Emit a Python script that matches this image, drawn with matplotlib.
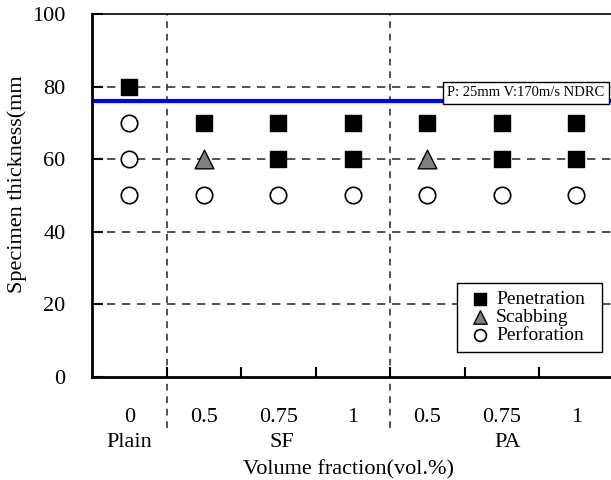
import matplotlib.pyplot as plt
import matplotlib.transforms as mtransforms

plt.rcParams['font.family'] = 'Liberation Serif'

# data
categories = ['0', '0.5', '0.75', '1', '0.5', '0.75', '1']
groups = ['Plain', 'SF', 'PA']
group_pos = [0, 2.05, 5.08]
separators = [0.5, 3.5]

pen_x = [0, 1, 2, 2, 3, 3, 4, 5, 5, 6, 6]
pen_y = [80, 70, 70, 60, 70, 60, 70, 70, 60, 70, 60]
scab_x = [1, 4]
scab_y = [60, 60]
perf_x = [0, 0, 0, 1, 2, 3, 4, 5, 6]
perf_y = [70, 60, 50, 50, 50, 50, 50, 50, 50]

ndrc_thickness = 76.1
ndrc_label = 'P: 25mm V:170m/s NDRC'

fig = plt.figure(figsize=(6.11, 4.8), dpi=100)
ax = fig.add_axes([0.1506, 0.2156, 0.8535, 0.7552])

ax.set_xlim(-0.5, 6.5)
ax.set_ylim(0, 100)

# horizontal dashed grid
for yv in [20, 40, 60, 80]:
    ax.axhline(yv, color='#333333', lw=1.2, ls=(0, (5, 4)), zorder=1)

# vertical separators, running below the axis
trans = mtransforms.blended_transform_factory(ax.transData, ax.transAxes)
for xs in separators:
    ax.plot([xs, xs], [-0.142, 1], transform=trans, color='#333333', lw=1.2,
            ls=(0, (4, 3.5)), clip_on=False, zorder=1)

ax.axhline(ndrc_thickness, color='#0000ff', lw=3, zorder=2)
ax.text(4.27, 76.5, ndrc_label, fontsize=10.5, ha='left', va='bottom', zorder=5,
        bbox=dict(boxstyle='square,pad=0.3', fc='white', ec='black', lw=1))

ax.scatter(pen_x, pen_y, marker='s', s=140, c='black', zorder=3, label='Penetration')
ax.scatter(scab_x, scab_y, marker='^', s=180, c='#808080', edgecolors='black',
           linewidths=1, zorder=3, label='Scabbing')
ax.scatter(perf_x, perf_y, marker='o', s=140, facecolors='white', edgecolors='black',
           linewidths=1.2, zorder=3, label='Perforation')

leg = ax.legend(loc='upper left', bbox_to_anchor=(0.700, 0.068, 0.278, 0.19),
                mode='expand', borderaxespad=0,
                fontsize=14, frameon=True, fancybox=False, edgecolor='black',
                framealpha=1, handletextpad=0.0, labelspacing=0.02,
                handlelength=1.6, markerscale=0.72, borderpad=0.4)
leg.get_frame().set_linewidth(1)
leg.set_zorder(6)

for side in ['left', 'bottom', 'top', 'right']:
    ax.spines[side].set_linewidth(2 if side in ('left', 'bottom') else 1.2)

ax.set_yticks(range(0, 101, 20))
ax.tick_params(axis='y', direction='in', length=8, width=1.5, labelsize=16, pad=19)
ax.set_xticks(range(len(categories)))
ax.set_xticklabels(categories)
ax.tick_params(axis='x', which='major', length=0, labelsize=16, pad=23)
ax.set_xticks([0.5, 1.5, 2.5, 3.5, 4.5, 5.5], minor=True)
ax.tick_params(axis='x', which='minor', direction='in', length=7, width=1.5)

for g, gx in zip(groups, group_pos):
    ax.text(gx, -0.181, g, transform=trans, ha='center', va='center', fontsize=16)
ax.text(2.94, -0.258, 'Volume fraction(vol.%)', transform=trans, ha='center',
        va='center', fontsize=16)

ax.set_ylabel('Specimen thickness(mm', fontsize=16)
ax.yaxis.set_label_coords(-0.125, 0.53)

fig.savefig('out.png', dpi=100)
